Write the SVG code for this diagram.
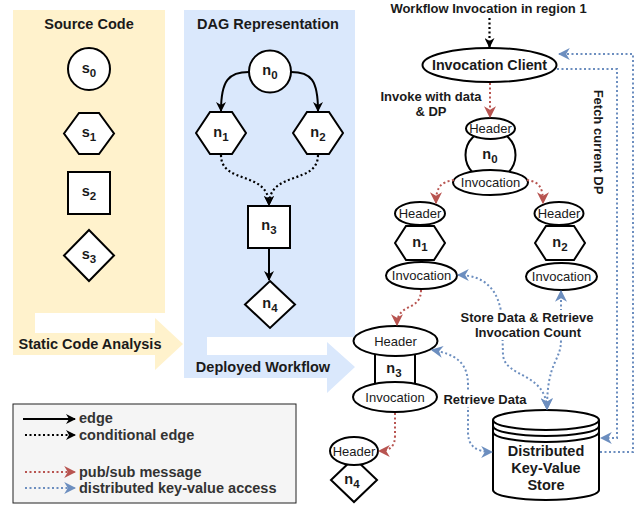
<svg xmlns="http://www.w3.org/2000/svg" width="641" height="505" viewBox="0 0 641 505">
<style>
text{font-family:"Liberation Sans",Arial,sans-serif;}
.t{font-size:14.5px;font-weight:bold;fill:#1a1a1a;}
.lb{font-size:13px;font-weight:bold;fill:#1a1a1a;}
.sm{font-size:13px;fill:#1a1a1a;}
.nl{font-size:14.5px;font-weight:bold;fill:#1a1a1a;}
.sub{font-size:11.5px;}
.shape{fill:#fff;stroke:#000;stroke-width:2;}
.e{fill:none;stroke:#000;stroke-width:2;}
.ed{fill:none;stroke:#000;stroke-width:2.2;stroke-dasharray:2 2.5;}
.red{fill:none;stroke:#b85450;stroke-width:2;stroke-dasharray:2 2.5;}
.blue{fill:none;stroke:#6c8ebf;stroke-width:2;stroke-dasharray:2 2.5;}
.lg{font-size:14.5px;font-weight:bold;fill:#333;}
</style>
<defs>
<marker id="ak" viewBox="0 0 10 10" refX="9" refY="5" markerWidth="10" markerHeight="10" orient="auto-start-reverse" markerUnits="userSpaceOnUse"><path d="M0,0 L10,5 L0,10 L3,5 z" fill="#000"/></marker>
<marker id="ar" viewBox="0 0 10 10" refX="9" refY="5" markerWidth="12" markerHeight="12" orient="auto-start-reverse" markerUnits="userSpaceOnUse"><path d="M0,0 L10,5 L0,10 L3,5 z" fill="#b85450"/></marker>
<marker id="ab" viewBox="0 0 10 10" refX="9" refY="5" markerWidth="12" markerHeight="12" orient="auto-start-reverse" markerUnits="userSpaceOnUse"><path d="M0,0 L10,5 L0,10 L3,5 z" fill="#6c8ebf"/></marker>
</defs>

<!-- panels -->
<g id="panel-source">
<polygon points="13,10 165,10 165,313 35,313 35,333 155,333 155,318 183,344 155,370 155,355 13,355" fill="#fff2cc"/>
<text class="t" x="89" y="29" text-anchor="middle">Source Code</text>
<text class="t" x="90" y="349" text-anchor="middle">Static Code Analysis</text>
</g>
<g id="panel-dag">
<polygon points="184,10 355,10 355,337 207,337 207,355 327,355 327,342 355,367 327,393 327,378 184,378" fill="#dae8fc"/>
<text class="t" x="268" y="29" text-anchor="middle">DAG Representation</text>
<text class="t" x="263" y="372" text-anchor="middle">Deployed Workflow</text>
</g>

<!-- source nodes -->
<g id="s0"><circle class="shape" cx="89" cy="69" r="21"/><text class="nl" x="89" y="73" text-anchor="middle">s<tspan class="sub" dy="4">0</tspan></text></g>
<g id="s1"><polygon class="shape" points="64,133.5 79,113 99,113 114,133.5 99,154 79,154"/><text class="nl" x="89" y="137" text-anchor="middle">s<tspan class="sub" dy="4">1</tspan></text></g>
<g id="s2"><rect class="shape" x="68" y="172" width="42" height="42"/><text class="nl" x="89" y="196" text-anchor="middle">s<tspan class="sub" dy="4">2</tspan></text></g>
<g id="s3"><polygon class="shape" points="89,230 114,255.5 89,281 64,255.5"/><text class="nl" x="89" y="259" text-anchor="middle">s<tspan class="sub" dy="4">3</tspan></text></g>

<!-- DAG nodes -->
<g id="d-n0"><circle class="shape" cx="270" cy="71.5" r="21"/><text class="nl" x="270" y="75" text-anchor="middle">n<tspan class="sub" dy="4">0</tspan></text></g>
<g id="d-n1"><polygon class="shape" points="196,133 210,112 232,112 246,133 232,154 210,154"/><text class="nl" x="221" y="137" text-anchor="middle">n<tspan class="sub" dy="4">1</tspan></text></g>
<g id="d-n2"><polygon class="shape" points="293,133 307,112 329,112 343,133 329,154 307,154"/><text class="nl" x="318" y="137" text-anchor="middle">n<tspan class="sub" dy="4">2</tspan></text></g>
<g id="d-n3"><rect class="shape" x="248" y="206" width="42" height="42"/><text class="nl" x="269" y="230" text-anchor="middle">n<tspan class="sub" dy="4">3</tspan></text></g>
<g id="d-n4"><polygon class="shape" points="270,281 295,304.5 270,328 245,304.5"/><text class="nl" x="270" y="308" text-anchor="middle">n<tspan class="sub" dy="4">4</tspan></text></g>

<!-- deployed nodes -->
<g id="client"><ellipse class="shape" cx="489.5" cy="65" rx="67" ry="17"/><text x="489.5" y="70" text-anchor="middle" style="font-size:14.3px;font-weight:bold;fill:#1a1a1a">Invocation Client</text></g>

<g id="n0">
<circle class="shape" cx="490.5" cy="155" r="25"/>
<ellipse class="shape" cx="490.5" cy="128.5" rx="24.5" ry="10.5"/>
<text class="sm" x="490.5" y="133" text-anchor="middle">Header</text>
<text class="nl" x="490" y="159" text-anchor="middle">n<tspan class="sub" dy="4">0</tspan></text>
<ellipse class="shape" cx="490.5" cy="182.5" rx="37.5" ry="12.5"/>
<text class="sm" x="490.5" y="187" text-anchor="middle">Invocation</text>
</g>

<g id="n1">
<polygon class="shape" points="395,243 406,226 434,226 445,243 434,260 406,260"/>
<ellipse class="shape" cx="420" cy="213.5" rx="25" ry="11.5"/>
<text class="sm" x="420" y="218" text-anchor="middle">Header</text>
<text class="nl" x="420" y="247" text-anchor="middle">n<tspan class="sub" dy="4">1</tspan></text>
<ellipse class="shape" cx="421.5" cy="275.5" rx="35.5" ry="13.5"/>
<text class="sm" x="421.5" y="280" text-anchor="middle">Invocation</text>
</g>

<g id="n2">
<polygon class="shape" points="535,243 546,226 574,226 585,243 574,260 546,260"/>
<ellipse class="shape" cx="559" cy="213.5" rx="24.5" ry="11.5"/>
<text class="sm" x="559" y="218" text-anchor="middle">Header</text>
<text class="nl" x="560" y="247" text-anchor="middle">n<tspan class="sub" dy="4">2</tspan></text>
<ellipse class="shape" cx="561.5" cy="276.5" rx="35.5" ry="13.5"/>
<text class="sm" x="561.5" y="281" text-anchor="middle">Invocation</text>
</g>

<g id="n3">
<rect class="shape" x="375" y="354" width="40" height="31"/>
<ellipse class="shape" cx="395.5" cy="341" rx="42" ry="15"/>
<text class="sm" x="395.5" y="345.5" text-anchor="middle">Header</text>
<text class="nl" x="394" y="373" text-anchor="middle">n<tspan class="sub" dy="4">3</tspan></text>
<ellipse class="shape" cx="395" cy="397" rx="42" ry="15"/>
<text class="sm" x="395" y="401.5" text-anchor="middle">Invocation</text>
</g>

<g id="n4">
<polygon class="shape" points="354,458 377,480 354,502 331,480"/>
<ellipse class="shape" cx="354" cy="451" rx="24" ry="14"/>
<text class="sm" x="354" y="455.5" text-anchor="middle">Header</text>
<text class="nl" x="352" y="484" text-anchor="middle">n<tspan class="sub" dy="4">4</tspan></text>
</g>

<g id="store">
<path class="shape" d="M493,420 A53,10 0 0 1 599,420 L599,490 A53,10 0 0 1 493,490 Z"/>
<path class="e" d="M493,420 A53,10 0 0 0 599,420 M493,426 A53,10 0 0 0 599,426 M493,432 A53,10 0 0 0 599,432"/>
<text class="t" x="546" y="456" text-anchor="middle">Distributed</text>
<text class="t" x="546" y="473" text-anchor="middle">Key-Value</text>
<text class="t" x="546" y="490" text-anchor="middle">Store</text>
</g>

<!-- connectors -->
<g id="connectors">
<path class="e" d="M249,72 C229,72 221,80 221,111" marker-end="url(#ak)"/>
<path class="e" d="M291,72 C311,72 318,80 318,111" marker-end="url(#ak)"/>
<path class="ed" d="M221,155 C221,185 269,170 269,205" marker-end="url(#ak)"/>
<path class="ed" d="M318,155 C318,185 269,170 269,205" marker-end="url(#ak)"/>
<path class="e" d="M269,248 L269,280" marker-end="url(#ak)"/>

<path class="ed" d="M489.5,18 L489.5,47" marker-end="url(#ak)"/>
<path class="red" d="M490,83 L490,117" marker-end="url(#ar)"/>
<path class="red" d="M454,180 C440,182 436,188 436,203" marker-end="url(#ar)"/>
<path class="red" d="M527,180 C540,182 543,188 543,203" marker-end="url(#ar)"/>
<path class="red" d="M421,290 C421,312 397,302 397,325" marker-end="url(#ar)"/>
<path class="red" d="M395,413 L395,436 C395,447 389,451 379,451" marker-end="url(#ar)"/>

<path class="blue" d="M600,452 L633,452 L633,54 L559,54" marker-end="url(#ab)"/>
<path class="blue" d="M557,69 L617,69 L617,438 L601,438" marker-end="url(#ab)"/>
<path class="blue" d="M458,275 C485,275 500,290 502,320 L503,355 C505,378 546,372 547,409" marker-start="url(#ab)" marker-end="url(#ab)"/>
<path class="blue" d="M561,291 L561,340 C561,362 547,360 547,409" marker-start="url(#ab)" marker-end="url(#ab)"/>
<path class="blue" d="M432,350 C455,354 468,362 468,385 L468,432 C468,446 476,452 492,452" marker-start="url(#ab)" marker-end="url(#ab)"/>
</g>

<!-- labels -->
<g id="labels">
<text class="lb" x="488.5" y="13" text-anchor="middle">Workflow Invocation in region 1</text>
<text class="lb" x="431" y="101" text-anchor="middle">Invoke with data</text>
<text class="lb" x="431" y="116" text-anchor="middle">&amp; DP</text>
<text class="lb" transform="translate(594,142) rotate(90)" text-anchor="middle">Fetch current DP</text>
<rect x="458" y="310" width="137" height="30" fill="#fff"/>
<text class="lb" x="527" y="322" text-anchor="middle">Store Data &amp; Retrieve</text>
<text class="lb" x="528" y="337" text-anchor="middle">Invocation Count</text>
<rect x="443" y="392" width="84" height="15" fill="#fff"/>
<text class="lb" x="485" y="404" text-anchor="middle">Retrieve Data</text>
</g>

<!-- legend -->
<g id="legend">
<rect x="13" y="404" width="283" height="99" fill="#f5f5f5" stroke="#222" stroke-width="1"/>
<path class="e" d="M23,419 L75,419" marker-end="url(#ak)"/>
<path class="ed" d="M25,435 L75,435" marker-end="url(#ak)"/>
<path class="red" d="M25,472 L75,472" marker-end="url(#ar)"/>
<path class="blue" d="M25,488 L75,488" marker-end="url(#ab)"/>
<text class="lg" x="79" y="423">edge</text>
<text class="lg" x="79" y="440">conditional edge</text>
<text class="lg" x="79" y="477">pub/sub message</text>
<text class="lg" x="79" y="493">distributed key-value access</text>
</g>
</svg>
